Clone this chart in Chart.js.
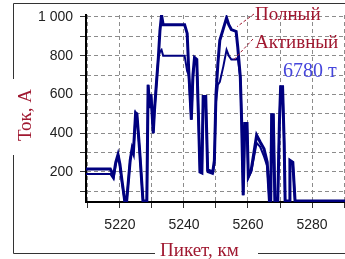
<!DOCTYPE html>
<html>
<head>
<meta charset="utf-8">
<script src="https://cdn.jsdelivr.net/npm/chart.js@4.4.1/dist/chart.umd.min.js"></script>
<style>
  html, body { margin: 0; padding: 0; background: #fff; overflow: hidden; }
  #wrap { position: relative; width: 345px; height: 259px; }
</style>
</head>
<body>
<div id="wrap"><canvas id="chart" width="345" height="259"></canvas></div>
<script>
// Data: picket (km) and current (A)
const pickets = [
  5209.4, 5217.0, 5218.0, 5218.7, 5219.4, 5220.0, 5220.6, 5221.5, 5222.1, 5223.2,
  5223.8, 5224.2, 5224.9, 5225.3, 5226.2, 5227.2, 5228.4, 5228.8, 5229.3, 5229.7,
  5230.4, 5230.8, 5231.5, 5232.0, 5232.5, 5233.0, 5233.5, 5240.2, 5241.0, 5241.5,
  5242.3, 5242.8, 5243.3, 5244.0, 5244.5, 5245.0, 5245.6, 5246.0, 5246.8, 5247.4,
  5249.0, 5249.5, 5250.0, 5250.6, 5251.2, 5252.3, 5253.3, 5254.0, 5254.8, 5256.3,
  5256.8, 5257.6, 5258.0, 5258.5, 5259.0, 5259.7, 5260.1, 5261.0, 5262.7, 5263.8,
  5265.0, 5266.0, 5266.7, 5267.1, 5267.4, 5267.9, 5268.4, 5269.3, 5269.8, 5270.2,
  5270.8, 5271.3, 5271.6, 5272.9, 5273.1, 5274.0, 5274.7, 5290.5
];
const fullCurrent = [
  215, 215, 180, 250, 290, 240, 160, 50, 50, 260,
  320, 300, 505, 500, 300, 50, 50, 650, 530, 600,
  400, 520, 680, 790, 930, 1010, 960, 960, 915, 720,
  470, 700, 790, 780, 500, 200, 195, 590, 590, 210,
  200, 260, 600, 760, 880, 940, 995, 960, 935, 925,
  845, 690, 470, 80, 450, 450, 175, 210, 390, 355,
  320, 250, 50, 50, 495, 495, 50, 50, 450, 640,
  640, 350, 50, 50, 260, 250, 50, 50
];
const activeCurrent = [
  190, 190, 165, 240, 280, 230, 150, 50, 50, 260,
  320, 300, 505, 490, 300, 50, 50, 650, 530, 600,
  400, 520, 680, 790, 820, 830, 800, 800, 720, 700,
  470, 680, 770, 760, 500, 200, 195, 590, 590, 200,
  190, 250, 560, 650, 665, 745, 830, 800, 780, 780,
  790, 690, 470, 80, 440, 430, 170, 200, 350, 330,
  280, 230, 50, 50, 495, 495, 50, 50, 450, 640,
  640, 350, 50, 50, 260, 250, 50, 50
];
const xTickLabels = [5220, 5240, 5260, 5280];
const yTickLabels = { 200: '200', 400: '400', 600: '600', 800: '800', 1000: '1 000' };
const seriesNames = ['Полный', 'Активный'];
const massLabel = '6780 т';
const xTitle = 'Пикет, км';
const yTitle = 'Ток, А';

const navy = '#00007f';
const darkRed = '#a01830';
const serif = "'Liberation Serif', 'Times New Roman', serif";

function toPoints(vals) {
  return pickets.map((km, i) => ({ x: km, y: vals[i] }));
}

// frame, axis titles and callouts
const decorPlugin = {
  id: 'decor',
  afterDraw(chart) {
    const c = chart.ctx;
    const xs = chart.scales.x, ys = chart.scales.y;
    c.save();
    // group-box frame with gaps for the titles
    c.strokeStyle = '#333';
    c.lineWidth = 1;
    c.beginPath();
    c.moveTo(345, 3.5); c.lineTo(13.5, 3.5); c.lineTo(13.5, 79);
    c.moveTo(13.5, 155); c.lineTo(13.5, 253.5); c.lineTo(155, 253.5);
    c.moveTo(258, 253.5); c.lineTo(345, 253.5);
    c.stroke();

    c.fillStyle = darkRed;
    c.font = '19px ' + serif;
    c.textBaseline = 'alphabetic';
    c.textAlign = 'left';
    c.fillText(xTitle, 160, 256);
    c.save();
    c.translate(31, 115);
    c.rotate(-Math.PI / 2);
    c.textAlign = 'center';
    c.fillText(yTitle, 0, 0);
    c.restore();

    // series callouts
    c.fillText(seriesNames[0], 255, 20);
    c.fillText(seriesNames[1], 255, 48);
    c.strokeStyle = darkRed;
    c.setLineDash([3, 2]);
    c.beginPath();
    c.moveTo(254, 14);
    c.lineTo(xs.getPixelForValue(5256.6), ys.getPixelForValue(950));
    c.moveTo(253, 39);
    c.lineTo(xs.getPixelForValue(5255.6), ys.getPixelForValue(780));
    c.stroke();
    c.setLineDash([]);

    c.fillStyle = '#4646dc';
    c.font = '20px ' + serif;
    c.fillText(massLabel, 283, 77);
    c.restore();
  }
};

const gridDash = [4, 3];

new Chart(document.getElementById('chart'), {
  type: 'line',
  data: {
    datasets: [{
      label: seriesNames[1],
      data: toPoints(activeCurrent),
      borderColor: navy,
      borderWidth: 2,
      pointRadius: 0,
      tension: 0
    }, {
      label: seriesNames[0],
      data: toPoints(fullCurrent),
      borderColor: navy,
      borderWidth: 3,
      pointRadius: 0,
      tension: 0
    }]
  },
  options: {
    responsive: false,
    animation: false,
    events: [],
    layout: { padding: { top: 15, left: 0, right: 0, bottom: 0 } },
    plugins: { legend: { display: false }, tooltip: { enabled: false } },
    scales: {
      x: {
        type: 'linear',
        min: 5209.4,
        max: 5290.3,
        afterFit(scale) { scale.height = 57; scale.paddingLeft = 0; scale.paddingRight = 0; },
        grid: { color: '#8c8c8c', borderDash: gridDash, tickLength: 6, tickColor: '#333', tickBorderDash: [] },
        border: { color: '#000', width: 2, dash: gridDash },
        ticks: {
          stepSize: 10,
          includeBounds: false,
          autoSkip: false,
          maxRotation: 0,
          padding: 9,
          color: '#222',
          font: { family: "'Liberation Sans', Arial, sans-serif", size: 14 },
          callback: v => xTickLabels.includes(v) ? String(v) : ''
        }
      },
      y: {
        min: 45,
        max: 1010,
        afterFit(scale) { scale.width = 86; scale.paddingTop = 0; scale.paddingBottom = 0; },
        grid: { color: '#8c8c8c', borderDash: gridDash, tickLength: 6, tickColor: '#333', tickBorderDash: [] },
        border: { color: '#000', width: 2, dash: gridDash },
        ticks: {
          stepSize: 100,
          includeBounds: false,
          autoSkip: false,
          padding: 7,
          color: '#222',
          font: { family: "'Liberation Sans', Arial, sans-serif", size: 14 },
          callback: v => yTickLabels[v] || ''
        }
      }
    }
  },
  plugins: [decorPlugin]
});
</script>
</body>
</html>
